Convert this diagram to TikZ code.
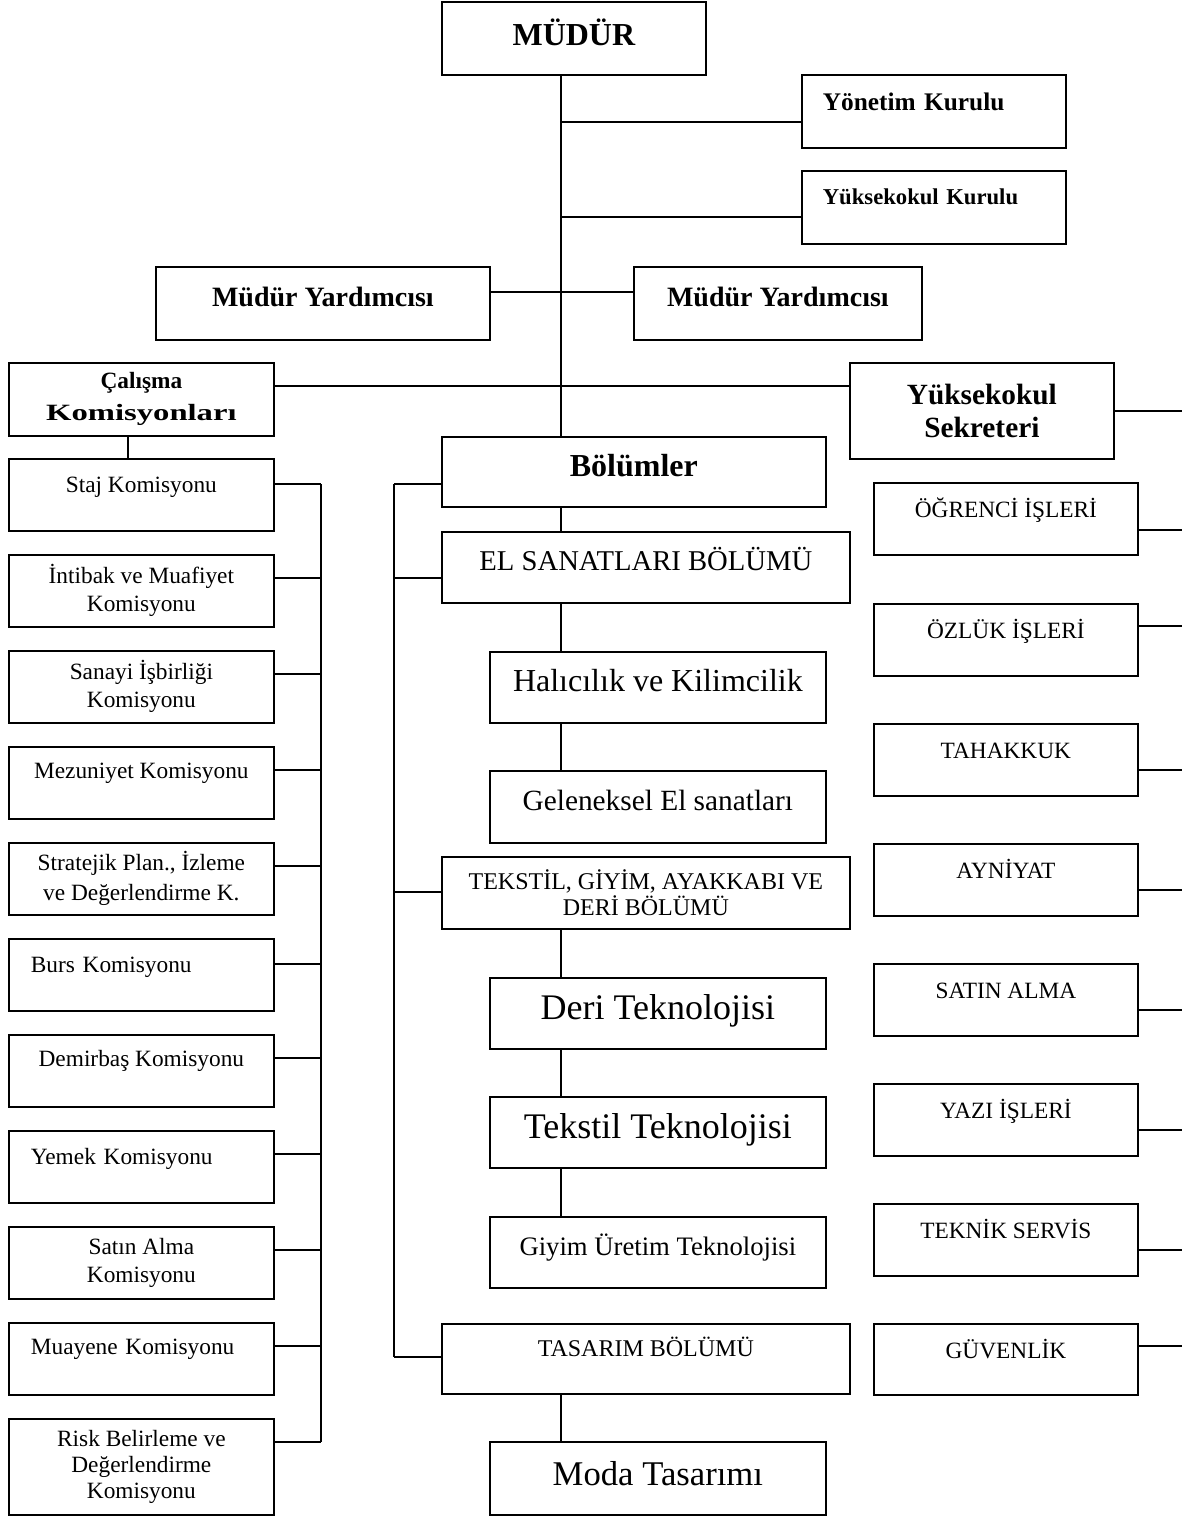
\documentclass[tikz,border=0pt]{standalone}
\usepackage{fontspec}
\usepackage{graphicx}
\setmainfont{Liberation Serif}
\usetikzlibrary{calc}

\newlength{\pix}
\setlength{\pix}{0.75pt}

\tikzset{
  box/.style={draw, line width=1.3pt, anchor=north west, align=center, inner sep=2pt},
  kbox/.style={box, minimum width=265\pix, minimum height=72\pix, font=\fontsize{17.5}{21}\selectfont},
  cbox/.style={box, minimum width=336\pix, minimum height=71\pix},
  dbox/.style={box, minimum width=408\pix, minimum height=71\pix},
  rbox/.style={box, minimum width=264\pix, minimum height=72\pix, font=\fontsize{17.5}{21}\selectfont, lift={12.3pt}{14.2pt}},
  lift/.style 2 args={text height=#1, text depth=#2},
  indent/.style={align=left, inner xsep=0pt, text width=#1},
  link/.style={line width=1.3pt},
}

\begin{document}
\begin{tikzpicture}[x=1\pix, y=-1\pix]
\useasboundingbox (0,0) rectangle (1182,1517);
\coordinate (sp) at (561,0);
\coordinate (kv) at (128,0);
\coordinate (lbus) at (321,0);
\coordinate (mbus) at (394,0);
\coordinate (redge) at (1182,0);

% yonetim
\node[box, minimum width=264\pix, minimum height=73\pix, font=\bfseries\fontsize{24}{29}\selectfont, lift={16.8pt}{5.5pt}] (mudur) at (441,1) {MÜDÜR};
\node[box, minimum width=264\pix, minimum height=73\pix, font=\bfseries\fontsize{19}{23}\selectfont, lift={13.3pt}{14.3pt}, indent=222\pix] (yonetim) at (801,74) {Yönetim Kurulu};
\node[box, minimum width=264\pix, minimum height=73\pix, font=\bfseries\fontsize{17}{21}\selectfont, lift={11.9pt}{15.7pt}, indent=222\pix] (ykurul) at (801,170) {Yüksekokul Kurulu};
\node[box, minimum width=334\pix, minimum height=73\pix, font=\bfseries\fontsize{21}{25}\selectfont, lift={14.7pt}{9.8pt}] (myl) at (155,266) {Müdür Yardımcısı};
\node[box, minimum width=288\pix, minimum height=73\pix, font=\bfseries\fontsize{21}{25}\selectfont, lift={14.7pt}{9.8pt}] (myr) at (633,266) {Müdür Yardımcısı};
\node[box, minimum width=265\pix, minimum height=73\pix, font=\bfseries\fontsize{17.5}{24}\selectfont] (calisma) at (8,362) {Çalışma\\\scalebox{1.4}[1]{Komisyonları}};
\node[box, minimum width=264\pix, minimum height=96\pix, font=\bfseries\fontsize{22}{25}\selectfont] (sekreter) at (849,362) {Yüksekokul\\Sekreteri};
\node[box, minimum width=384\pix, minimum height=70\pix, font=\bfseries\fontsize{24}{29}\selectfont, lift={16.8pt}{10pt}] (bolumler) at (441,436) {Bölümler};

% komisyonlar
\node[kbox, lift={12.3pt}{15.7pt}] (staj) at (8,458) {Staj Komisyonu};
\node[kbox] (intibak) at (8,554) {İntibak ve Muafiyet\\Komisyonu};
\node[kbox] (sanayi) at (8,650) {Sanayi İşbirliği\\Komisyonu};
\node[kbox, lift={12.3pt}{18.7pt}] (mezun) at (8,746) {Mezuniyet Komisyonu};
\node[kbox, font=\fontsize{17.5}{22.5}\selectfont] (strat) at (8,842) {Stratejik Plan., İzleme\\ve Değerlendirme K.};
\node[kbox, lift={12.3pt}{15.7pt}, indent=221\pix] (burs) at (8,938) {Burs Komisyonu};
\node[kbox, lift={12.3pt}{18.7pt}] (demir) at (8,1034) {Demirbaş Komisyonu};
\node[kbox, lift={12.3pt}{15.7pt}, indent=221\pix] (yemek) at (8,1130) {Yemek Komisyonu};
\node[kbox] (satink) at (8,1226) {Satın Alma\\Komisyonu};
\node[kbox, lift={12.3pt}{18.7pt}, indent=221\pix] (muayene) at (8,1322) {Muayene Komisyonu};
\node[kbox, minimum height=96\pix, font=\fontsize{17.5}{19.5}\selectfont] (risk) at (8,1418) {Risk Belirleme ve\\Değerlendirme\\Komisyonu};

% bolumler
\node[dbox, font=\fontsize{21.5}{26}\selectfont, lift={15pt}{9.9pt}] (elsan) at (441,531) {EL SANATLARI BÖLÜMÜ};
\node[cbox, font=\fontsize{24}{29}\selectfont, lift={16.8pt}{10pt}] (hali) at (489,651) {Halıcılık ve Kilimcilik};
\node[cbox, minimum height=72\pix, font=\fontsize{22}{26}\selectfont, lift={15.4pt}{9.9pt}] (gelen) at (489,770) {Geleneksel El sanatları};
\node[dbox, minimum height=72\pix, font=\fontsize{18}{19.5}\selectfont] (tekstil) at (441,856) {TEKSTİL, GİYİM, AYAKKABI VE\\DERİ BÖLÜMÜ};
\node[cbox, font=\fontsize{27}{32}\selectfont, lift={18.9pt}{10.1pt}] (deri) at (489,977) {Deri Teknolojisi};
\node[cbox, font=\fontsize{27}{32}\selectfont, lift={18.9pt}{10.1pt}] (tekt) at (489,1096) {Tekstil Teknolojisi};
\node[cbox, font=\fontsize{20}{24}\selectfont, lift={14pt}{9.8pt}] (giyim) at (489,1216) {Giyim Üretim Teknolojisi};
\node[dbox, minimum height=70\pix, font=\fontsize{18}{22}\selectfont, lift={12.6pt}{15.7pt}] (tasarim) at (441,1323) {TASARIM BÖLÜMÜ};
\node[cbox, minimum height=73\pix, font=\fontsize{26}{31}\selectfont, lift={18.2pt}{7pt}] (moda) at (489,1441) {Moda Tasarımı};

% sekreterlik
\node[rbox] (ogr) at (873,482) {ÖĞRENCİ İŞLERİ};
\node[rbox] (ozluk) at (873,603) {ÖZLÜK İŞLERİ};
\node[rbox] (tahak) at (873,723) {TAHAKKUK};
\node[rbox] (ayni) at (873,843) {AYNİYAT};
\node[rbox] (satin) at (873,963) {SATIN ALMA};
\node[rbox] (yazi) at (873,1083) {YAZI İŞLERİ};
\node[rbox] (teknik) at (873,1203) {TEKNİK SERVİS};
\node[rbox, minimum height=71\pix] (guven) at (873,1323) {GÜVENLİK};

% baglantilar
\draw[link] (mudur.south -| sp) -- (bolumler.north -| sp);
\draw[link] ([yshift=-48\pix]yonetim.north west) -- ([yshift=-48\pix]yonetim.north west -| sp);
\draw[link] ([yshift=-47\pix]ykurul.north west) -- ([yshift=-47\pix]ykurul.north west -| sp);
\draw[link] ([yshift=-26\pix]myl.north east) -- ([yshift=-26\pix]myr.north west);
\draw[link] ([yshift=-24\pix]calisma.north east) -- ([yshift=-24\pix]sekreter.north west);
\draw[link] (calisma.south -| kv) -- (staj.north -| kv);

\foreach \n/\d in {staj/26, intibak/24, sanayi/24, mezun/24, strat/24, burs/26, demir/24, yemek/24, satink/24, muayene/24, risk/24}
  \draw[link] ([yshift=-\d\pix]\n.north east) -- ([yshift=-\d\pix]\n.north east -| lbus);
\draw[link] ([yshift=-26\pix]staj.north east -| lbus) -- ([yshift=-24\pix]risk.north east -| lbus);

\foreach \n/\d in {bolumler/48, elsan/47, tekstil/36, tasarim/34}
  \draw[link] ([yshift=-\d\pix]\n.north west) -- ([yshift=-\d\pix]\n.north west -| mbus);
\draw[link] ([yshift=-48\pix]bolumler.north west -| mbus) -- ([yshift=-34\pix]tasarim.north west -| mbus);

\foreach \a/\b in {bolumler/elsan, elsan/hali, hali/gelen, tekstil/deri, deri/tekt, tekt/giyim, tasarim/moda}
  \draw[link] (\a.south -| sp) -- (\b.north -| sp);

\draw[link] (sekreter.east) -- (sekreter.east -| redge);
\foreach \n/\d in {ogr/48, ozluk/23, tahak/47, ayni/47, satin/47, yazi/47, teknik/47, guven/23}
  \draw[link] ([yshift=-\d\pix]\n.north east) -- ([yshift=-\d\pix]\n.north east -| redge);
\end{tikzpicture}
\end{document}
